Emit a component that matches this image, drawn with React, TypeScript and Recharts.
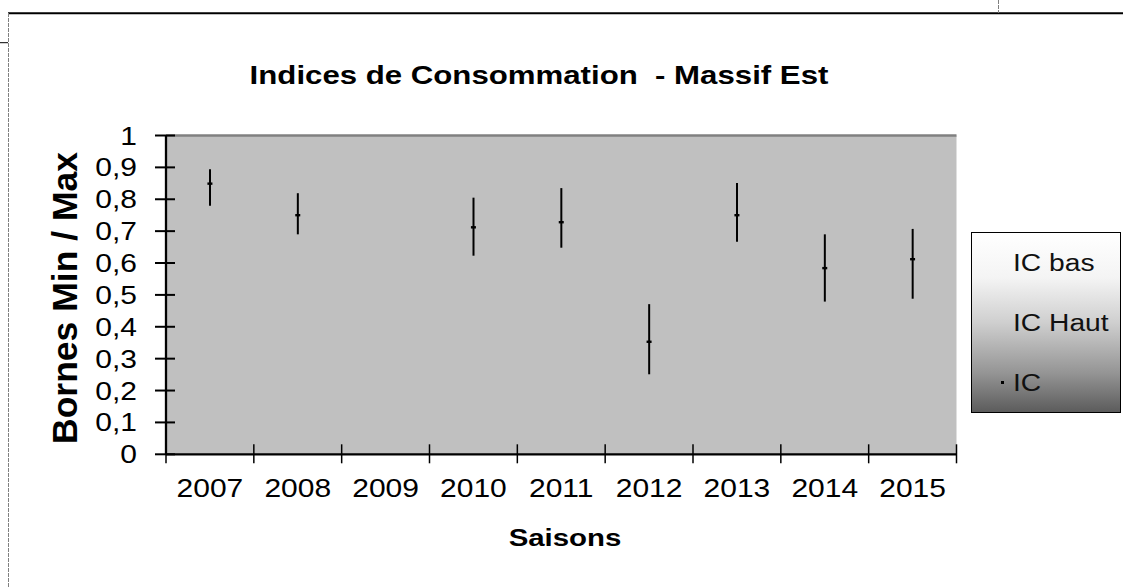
import React from 'react';
import {
  ComposedChart,
  Bar,
  Line,
  XAxis,
  YAxis,
  CartesianGrid,
  ReferenceLine,
  Legend,
} from 'recharts';

const years = ['2007', '2008', '2009', '2010', '2011', '2012', '2013', '2014', '2015'];
const icBas = [0.78, 0.69, null, 0.623, 0.648, 0.251, 0.667, 0.479, 0.488];
const icHaut = [0.894, 0.819, null, 0.805, 0.835, 0.471, 0.851, 0.69, 0.707];
const icValues = [0.849, 0.75, null, 0.712, 0.728, 0.353, 0.75, 0.584, 0.612];
const yTicks = [0, 0.1, 0.2, 0.3, 0.4, 0.5, 0.6, 0.7, 0.8, 0.9, 1];
const legendLabels = ['IC bas', 'IC Haut', 'IC'];
const chartTitle = 'Indices de Consommation  - Massif Est';
const xTitle = 'Saisons';
const yTitle = 'Bornes Min / Max';

const data = years.map((year, i) => ({
  year,
  bas: icBas[i],
  haut: icHaut[i],
  ic: icValues[i],
  range: icBas[i] == null || icHaut[i] == null ? null : [icBas[i], icHaut[i]],
}));

const FONT = '"Liberation Sans", Arial, Helvetica, sans-serif';
const SX = 1.2;

const Y_TICK_SIZE = 11;
const Y_TICK_MARGIN = 18;
const X_TICK_SIZE = 9;

const YTick = (props: any) => {
  const { x, y, payload } = props;
  const axisX = x + Y_TICK_SIZE + Y_TICK_MARGIN;
  const label = String(payload.value).replace('.', ',');
  return (
    <g>
      <line x1={axisX - 11} x2={axisX + 9} y1={y} y2={y} stroke="#000" strokeWidth={2} />
      <g transform={`translate(${x},${y})`}>
        <text
          x={0}
          y={0}
          dy="0.36em"
          textAnchor="end"
          transform={`scale(${SX},1)`}
          fontFamily={FONT}
          fontSize={25}
          fill="#000"
        >
          {label}
        </text>
      </g>
    </g>
  );
};

const XTick = (props: any) => {
  const { x, y, payload, index } = props;
  const axisY = y - X_TICK_SIZE;
  const off = payload && typeof payload.offset === 'number' && payload.offset > 0 ? payload.offset : 43.9;
  const isLast = index === years.length - 1;
  return (
    <g>
      <line x1={x - off} x2={x - off} y1={axisY - 10} y2={axisY + 9} stroke="#000" strokeWidth={1.5} />
      {isLast ? (
        <line x1={x + off} x2={x + off} y1={axisY - 10} y2={axisY + 9} stroke="#000" strokeWidth={1.5} />
      ) : null}
      <g transform={`translate(${x},${y})`}>
        <text
          x={0}
          y={0}
          dy={34}
          textAnchor="middle"
          transform={`scale(${SX},1)`}
          fontFamily={FONT}
          fontSize={25}
          fill="#000"
        >
          {payload.value}
        </text>
      </g>
    </g>
  );
};

const IcDot = (props: any) => {
  const { cx, cy } = props;
  if (cx == null || cy == null || Number.isNaN(cx) || Number.isNaN(cy)) return <g />;
  return <rect x={cx - 2.5} y={cy - 1.2} width={5} height={2.4} fill="#000" />;
};

const LegendBox = (props: any) => {
  const payload: any[] = (props.payload || []).filter((p: any) => legendLabels.includes(p.value));
  const sorted = [...payload].sort(
    (a, b) => legendLabels.indexOf(a.value) - legendLabels.indexOf(b.value)
  );
  return (
    <div
      style={{
        boxSizing: 'border-box',
        width: 150,
        height: 181,
        border: '1.5px solid #000',
        background:
          'linear-gradient(to bottom, #ffffff 0%, #f4f4f4 25%, #cfcfcf 50%, #959595 78%, #5c5c5c 100%)',
        fontFamily: FONT,
        fontSize: 23.5,
        color: '#111',
      }}
    >
      {sorted.map((entry: any) => (
        <div
          key={entry.value}
          style={{ position: 'relative', height: 60, lineHeight: '60px', whiteSpace: 'nowrap' }}
        >
          {entry.value === 'IC' ? (
            <span
              style={{
                position: 'absolute',
                left: 29,
                top: 28,
                width: 3,
                height: 3,
                background: '#000',
              }}
            />
          ) : null}
          <span
            style={{
              position: 'absolute',
              left: 41,
              top: 0,
              display: 'inline-block',
              transform: `scaleX(${SX})`,
              transformOrigin: 'left center',
            }}
          >
            {entry.value}
          </span>
        </div>
      ))}
    </div>
  );
};

export default function App() {
  return (
    <div style={{ position: 'absolute', left: 0, top: 0, width: 1123, height: 587, background: '#fff' }}>
      <ComposedChart
        width={1123}
        height={587}
        data={data}
        margin={{ top: 135.5, right: 166.5, bottom: 72.7, left: 0 }}
      >
        <CartesianGrid fill="#c0c0c0" horizontal={false} vertical={false} stroke="none" />
        <XAxis
          dataKey="year"
          type="category"
          interval={0}
          height={60}
          tickSize={X_TICK_SIZE}
          tickMargin={0}
          tickLine={false}
          tick={<XTick />}
          axisLine={{ stroke: '#000', strokeWidth: 2.3 }}
        />
        <YAxis
          domain={[0, 1]}
          ticks={yTicks}
          interval={0}
          width={166}
          tickSize={Y_TICK_SIZE}
          tickMargin={Y_TICK_MARGIN}
          tickLine={false}
          tick={<YTick />}
          axisLine={{ stroke: '#000', strokeWidth: 2.3 }}
        />
        <YAxis
          yAxisId="right"
          orientation="right"
          domain={[0, 1]}
          width={0}
          tick={false}
          tickLine={false}
          axisLine={{ stroke: '#808080', strokeWidth: 3 }}
        />
        <ReferenceLine y={1} stroke="#808080" strokeWidth={2.5} />
        <Bar dataKey="range" barSize={2} fill="#000" legendType="none" isAnimationActive={false} />
        <Line
          dataKey="bas"
          name="IC bas"
          stroke="none"
          dot={false}
          activeDot={false}
          legendType="plainline"
          isAnimationActive={false}
        />
        <Line
          dataKey="haut"
          name="IC Haut"
          stroke="none"
          dot={false}
          activeDot={false}
          legendType="plainline"
          isAnimationActive={false}
        />
        <Line
          dataKey="ic"
          name="IC"
          stroke="none"
          dot={<IcDot />}
          activeDot={false}
          legendType="square"
          isAnimationActive={false}
        />
        <Legend
          layout="vertical"
          align="center"
          verticalAlign="middle"
          content={<LegendBox />}
          wrapperStyle={{ left: 971, top: 232, width: 150, height: 181, right: 'auto', bottom: 'auto' }}
        />
      </ComposedChart>
      <svg
        width={1123}
        height={587}
        style={{ position: 'absolute', left: 0, top: 0, pointerEvents: 'none' }}
      >
        <line x1={8} x2={1123} y1={13.3} y2={13.3} stroke="#000" strokeWidth={2} />
        <line x1={8.5} x2={8.5} y1={13} y2={587} stroke="#808080" strokeWidth={1} strokeDasharray="4 1" />
        <line x1={0} x2={8} y1={42.7} y2={42.7} stroke="#000" strokeWidth={1} />
        <line x1={998.5} x2={998.5} y1={0} y2={13} stroke="#808080" strokeWidth={1} strokeDasharray="4 1" />
        <text
          transform={`translate(539,84) scale(${SX},1)`}
          textAnchor="middle"
          fontFamily={FONT}
          fontWeight="bold"
          fontSize={26}
          fill="#000"
          style={{ whiteSpace: 'pre' }}
          xmlSpace="preserve"
        >
          {chartTitle}
        </text>
        <text
          transform={`translate(565,546) scale(${SX},1)`}
          textAnchor="middle"
          fontFamily={FONT}
          fontWeight="bold"
          fontSize={24.5}
          fill="#000"
        >
          {xTitle}
        </text>
        <text
          transform="translate(77,298) rotate(-90)"
          textAnchor="middle"
          fontFamily={FONT}
          fontWeight="bold"
          fontSize={35.5}
          fill="#000"
        >
          {yTitle}
        </text>
      </svg>
    </div>
  );
}
